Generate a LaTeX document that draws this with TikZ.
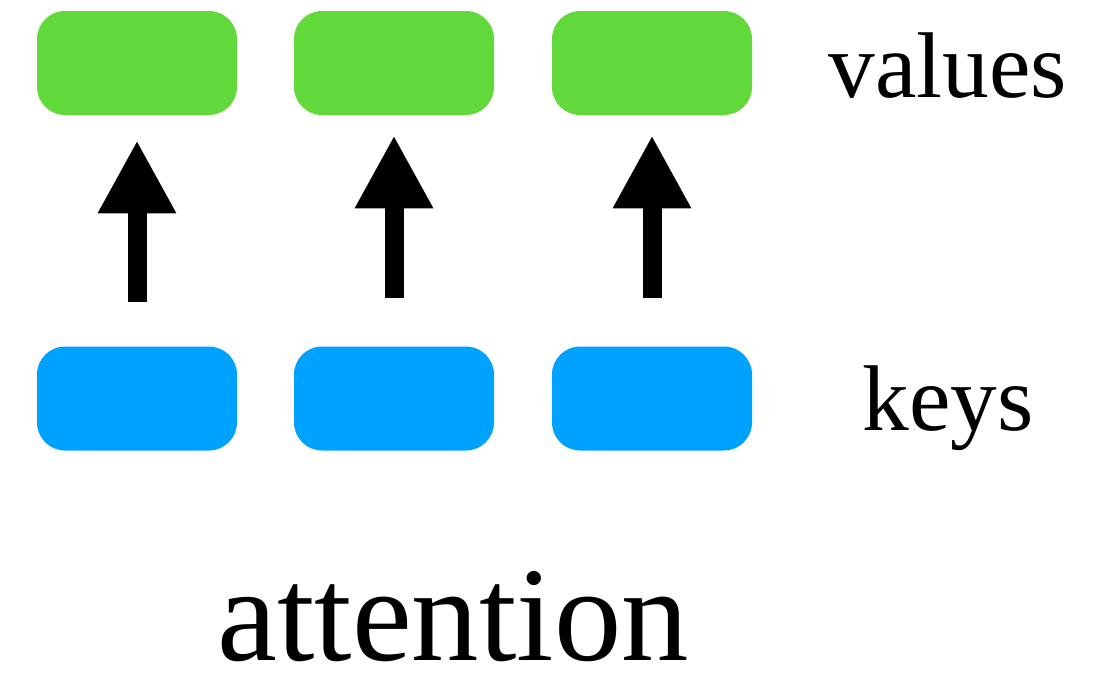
\documentclass[tikz,border=0pt]{standalone}
\usepackage{fontspec}
\setmainfont{Liberation Serif}
\usetikzlibrary{arrows.meta}
\definecolor{valgreen}{RGB}{98,217,59}
\definecolor{keyblue}{RGB}{0,162,255}
\begin{document}
\begin{tikzpicture}[x=0.75pt,y=-0.75pt,
  tokbox/.style={rectangle,rounded corners=21pt,inner sep=0pt,
    minimum width=150pt,minimum height=78pt},
  valbox/.style={tokbox,fill=valgreen},
  keybox/.style={tokbox,fill=keyblue},
  uparrow/.style={line width=14.25pt,
    -{Triangle[width=54.75pt,length=54.75pt]}},
  rowlabel/.style={anchor=base,inner sep=0pt,font=\fontsize{70pt}{80pt}\selectfont},
  titlelabel/.style={anchor=base,inner sep=0pt,text depth=0pt,
    font=\fontsize{101pt}{110pt}\selectfont}]
\useasboundingbox (0,0) rectangle (1096,678);

% value row
\node[valbox] (v1) at (137,63) {};
\node[valbox] (v2) at (394,63) {};
\node[valbox] (v3) at (652,63) {};

% key row
\node[keybox] (k1) at (137,398.5) {};
\node[keybox] (k2) at (394,398.5) {};
\node[keybox] (k3) at (652,398.5) {};

% key -> value arrows
\draw[uparrow,shorten <=33pt,shorten >=18.75pt] (k1.north) -- (v1.south);
\draw[uparrow,shorten <=36pt,shorten >=15pt] (k2.north) -- (v2.south);
\draw[uparrow,shorten <=36pt,shorten >=15pt] (k3.north) -- (v3.south);

% labels
\node[rowlabel] (lv) at (948,97) {values};
\node[rowlabel] (lk) at (948,430) {keys};
\node[titlelabel] (lt) at (453,660) {attention};
\end{tikzpicture}
\end{document}
